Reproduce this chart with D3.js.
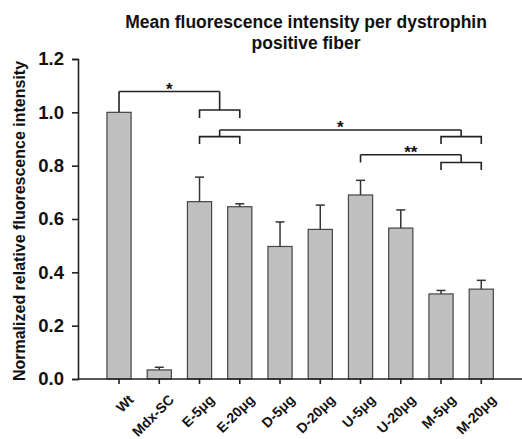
<!DOCTYPE html>
<html>
<head>
<meta charset="utf-8">
<script src="https://cdn.jsdelivr.net/npm/d3@7"></script>
<style>
	body { margin: 0; background: #fff; }
	text { font-family: "Liberation Sans", Arial, sans-serif; font-weight: bold; fill: #111; }
</style>
</head>
<body>
<div id="chart"></div>
<script>

const groups = ["Wt", "Mdx-SC", "E-5μg", "E-20μg", "D-5μg", "D-20μg", "U-5μg", "U-20μg", "M-5μg", "M-20μg"];
const means = [1.0, 0.034, 0.665, 0.646, 0.497, 0.561, 0.690, 0.566, 0.319, 0.337];
const errors = [0, 0.010, 0.092, 0.011, 0.092, 0.091, 0.055, 0.068, 0.013, 0.033];
const yTicks = [0.0, 0.2, 0.4, 0.6, 0.8, 1.0, 1.2];

// significance brackets: left side / right side (one group or a pair), heights in data units
const brackets = [
	{ left: ["Wt"], right: ["E-5μg", "E-20μg"], top: 1.078, sub: 1.009, foot: 0.979, label: "*" },
	{ left: ["E-5μg", "E-20μg"], right: ["M-5μg", "M-20μg"], top: 0.934, sub: 0.909, foot: 0.881, label: "*" },
	{ left: ["U-5μg"], right: ["M-5μg", "M-20μg"], top: 0.841, sub: 0.812, foot: 0.784, label: "**" }
];

const width = 522, height = 439;
const margin = { left: 78, bottom: 60 };

const svg = d3.select("#chart").append("svg")
	.attr("width", width)
	.attr("height", height);

let x = d3.scaleBand()
	.domain(groups)
	.range([98.9, 501.4])
	.paddingInner(0.4)
	.paddingOuter(0.2);

let y = d3.scaleLinear()
	.domain([0, 1.2])
	.range([379, 59]);

let cx = g => x(g) + x.bandwidth() / 2;

// title
svg.append("text")
	.attr("x", 306).attr("y", 28)
	.attr("text-anchor", "middle")
	.style("font-size", "17.5px")
	.text("Mean fluorescence intensity per dystrophin");
svg.append("text")
	.attr("x", 306).attr("y", 49)
	.attr("text-anchor", "middle")
	.style("font-size", "17.5px")
	.text("positive fiber");

// y axis
let yAxis = svg.append("g")
	.attr("transform", `translate(${margin.left},0)`)
	.call(d3.axisLeft(y).tickValues(yTicks).tickFormat(d3.format(".1f")).tickSize(6).tickPadding(8));
yAxis.select(".domain").attr("stroke", "#222").attr("stroke-width", 1.6);
yAxis.selectAll(".tick line").attr("stroke", "#222").attr("stroke-width", 1.6);
yAxis.selectAll(".tick text")
	.style("font-size", "18.5px")
	.style("font-family", "'Liberation Sans', Arial, sans-serif")
	.style("font-weight", "bold")
	.attr("fill", "#111");

svg.append("text")
	.attr("transform", `translate(25,${221}) rotate(-90)`)
	.attr("text-anchor", "middle")
	.style("font-size", "16px")
	.text("Normalized relative fluorescence intensity");

// bars
svg.selectAll("rect.bar")
	.data(groups)
	.join("rect")
	.attr("class", "bar")
	.attr("x", d => x(d))
	.attr("width", x.bandwidth())
	.attr("y", (d, i) => y(means[i]))
	.attr("height", (d, i) => y(0) - y(means[i]))
	.attr("fill", "#c0c0c0")
	.attr("stroke", "#444")
	.attr("stroke-width", 1.2);

// error bars (upper only)
let eb = svg.append("g").attr("stroke", "#333").attr("stroke-width", 1.5);
groups.forEach((g, i) => {
	if (!errors[i]) return;
	eb.append("line")
		.attr("x1", cx(g)).attr("x2", cx(g))
		.attr("y1", y(means[i])).attr("y2", y(means[i] + errors[i]));
	eb.append("line")
		.attr("x1", cx(g) - 4.5).attr("x2", cx(g) + 4.5)
		.attr("y1", y(means[i] + errors[i])).attr("y2", y(means[i] + errors[i]));
});

// x axis
let xAxis = svg.append("g")
	.attr("transform", `translate(0,${y(0)})`)
	.call(d3.axisBottom(x).tickSize(5).tickSizeOuter(0));
xAxis.select(".domain").attr("d", `M${margin.left},0H${width}`).attr("stroke", "#222").attr("stroke-width", 1.6);
xAxis.selectAll(".tick line").attr("stroke", "#222").attr("stroke-width", 1.6);
xAxis.selectAll(".tick text")
	.style("font-size", "14px")
	.style("font-family", "'Liberation Sans', Arial, sans-serif")
	.style("font-weight", "bold")
	.attr("fill", "#111")
	.attr("text-anchor", "end")
	.attr("dy", 0)
	.attr("transform", "translate(10,16) rotate(-45)");

// brackets
let br = svg.append("g").attr("fill", "none").attr("stroke", "#222").attr("stroke-width", 1.6);
let side = (names, b) => {
	if (names.length == 1) {
		let px = cx(names[0]);
		// single group: leg goes straight down from the top line
		let foot = names[0] == "Wt" ? y(means[0]) : y(b.sub);
		br.append("path").attr("d", `M${px},${y(b.top)}V${foot}`);
		return px;
	}
	let a = cx(names[0]), c = cx(names[1]), m = (a + c) / 2;
	br.append("path").attr("d", `M${a},${y(b.foot)}V${y(b.sub)}H${c}V${y(b.foot)}`);
	br.append("path").attr("d", `M${m},${y(b.sub)}V${y(b.top)}`);
	return m;
};
brackets.forEach(b => {
	let l = side(b.left, b), r = side(b.right, b);
	br.append("path").attr("d", `M${l},${y(b.top)}H${r}`);
	svg.append("text")
		.attr("x", (l + r) / 2)
		.attr("y", y(b.top) + 3)
		.attr("text-anchor", "middle")
		.style("font-size", "17px")
		.text(b.label);
});

</script>
</body>
</html>
